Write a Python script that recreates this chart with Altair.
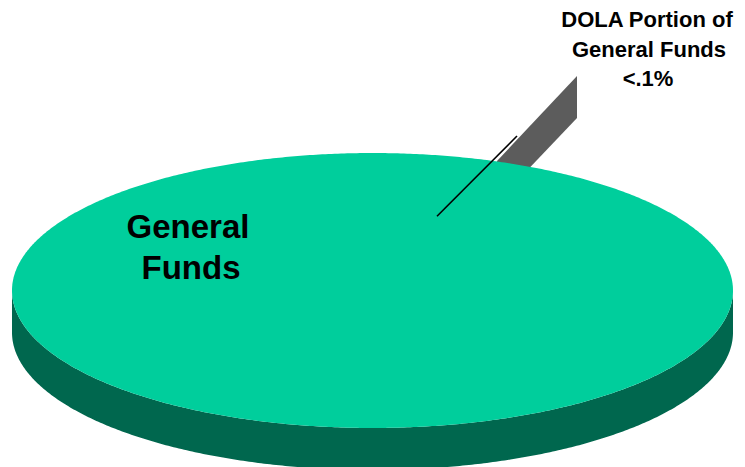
import math

import altair as alt
import pandas as pd

# Budget shares behind the pie
slices = ["General Funds", "DOLA Portion of General Funds"]
shares = [99.9, 0.1]

# Label rows: text, centre, baseline, size
label_text = ["General", "Funds", "DOLA Portion of", "General Funds", "<.1%"]
label_x = [188, 191, 647, 649, 648]
label_y = [238, 279, 27, 57, 86]
label_size = [33, 33, 22, 22, 22]

# Pie proportions, in units of the disc radius
TILT = 0.3814
DEPTH = 0.1165
X_DOMAIN = [-1.0333, 1.0333]
Y_DOMAIN = [-0.4896, 0.8058]

# Pulled-out sliver for the small share, seen edge on
sliver_x = [0.3454, 0.5673]
sliver_top = [0.3592, 0.5950]
sliver_bottom = [0.2455, 0.4784]

# Leader line from the disc up past the sliver
leader_x = [0.1789, 0.4008]
leader_y = [0.2059, 0.4285]

x_scale = alt.Scale(domain=X_DOMAIN)
y_scale = alt.Scale(domain=Y_DOMAIN)
x_enc = alt.X("x:Q", scale=x_scale, axis=None)
y_enc = alt.Y("y:Q", scale=y_scale, axis=None)

# Sweep the rim of the disc from left to right
rim = pd.DataFrame(
    [
        {
            "x": -math.cos(math.radians(a)),
            "upper": TILT * math.sin(math.radians(a)),
            "lower": -TILT * math.sin(math.radians(a)),
            "edge": -TILT * math.sin(math.radians(a)) - DEPTH,
        }
        for a in [i / 2 for i in range(361)]
    ]
)

side = (
    alt.Chart(rim)
    .mark_area(color="#00674E", clip=True)
    .encode(
        x=alt.X("x:Q", scale=x_scale, axis=None),
        y=alt.Y("lower:Q", scale=y_scale, axis=None),
        y2="edge:Q",
    )
)

sliver = (
    alt.Chart(pd.DataFrame({"x": sliver_x, "top": sliver_top, "bottom": sliver_bottom}))
    .mark_area(color="#5C5C5C")
    .encode(
        x=alt.X("x:Q", scale=x_scale, axis=None),
        y=alt.Y("top:Q", scale=y_scale, axis=None),
        y2="bottom:Q",
    )
)

disc = (
    alt.Chart(rim)
    .mark_area(color="#00CE9C")
    .encode(
        x=alt.X("x:Q", scale=x_scale, axis=None),
        y=alt.Y("upper:Q", scale=y_scale, axis=None),
        y2="lower:Q",
    )
)

leader = (
    alt.Chart(pd.DataFrame({"x": leader_x, "y": leader_y}))
    .mark_line(color="#000000", strokeWidth=1.6)
    .encode(x=x_enc, y=y_enc)
)

labels = (
    alt.Chart(
        pd.DataFrame(
            {"text": label_text, "px": label_x, "py": label_y, "size": label_size}
        )
    )
    .mark_text(
        font="Liberation Sans",
        fontWeight="bold",
        color="#000000",
        align="center",
        baseline="alphabetic",
    )
    .encode(
        x=alt.X("px:Q", scale=None, axis=None),
        y=alt.Y("py:Q", scale=None, axis=None),
        text="text:N",
        size=alt.Size("size:Q", scale=None, legend=None),
    )
)

chart = (
    alt.layer(side, sliver, disc, leader, labels)
    .properties(
        width=745,
        height=467,
        padding=0,
        background="#FFFFFF",
        autosize=alt.AutoSizeParams(type="none"),
    )
    .configure_view(stroke=None)
)

chart.save("out.html", embed_options={"renderer": "svg", "actions": False})
